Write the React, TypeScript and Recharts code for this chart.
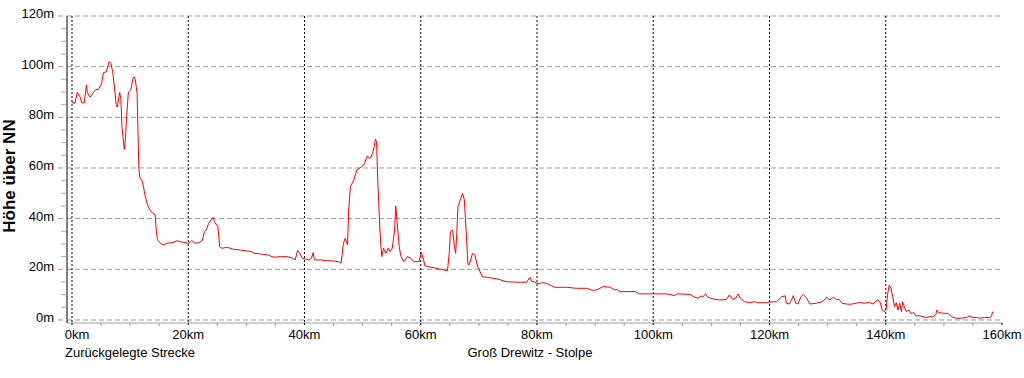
import { LineChart, Line, XAxis, YAxis, CartesianGrid } from "recharts";

// elevation profile Groß Drewitz - Stolpe
const distanceKm = [
  0.0, 0.5, 0.9, 1.4, 1.7, 2.1, 2.5, 2.6, 3.1, 3.7, 4.1, 4.5, 4.8, 5.1, 5.4, 5.9,
  6.4, 6.7, 7.0, 7.3, 7.6, 7.8, 8.2, 8.4, 8.6, 9.0, 9.2, 9.4, 9.7, 10.1, 10.5,
  10.7, 10.9, 11.2, 11.4, 11.5, 11.7, 12.0, 12.3, 12.6, 13.0, 13.4, 13.9, 14.3,
  14.5, 14.7, 15.2, 15.7, 16.3, 17.2, 18.1, 18.6, 19.5, 20.1, 20.6, 21.2, 21.8,
  22.4, 22.8, 23.1, 23.5, 24.1, 24.3, 24.5, 24.9, 25.1, 25.4, 25.8, 26.7, 27.8,
  29.0, 30.1, 30.9, 31.3, 32.4, 33.6, 34.7, 35.9, 37.0, 37.9, 38.4, 38.8, 39.2,
  39.6, 40.2, 40.7, 41.2, 41.5, 41.7, 42.8, 43.9, 45.0, 45.9, 46.3, 46.7, 47.0,
  47.4, 47.6, 47.9, 48.5, 49.0, 49.7, 50.2, 50.8, 51.3, 51.7, 52.0, 52.2, 52.4,
  52.6, 52.9, 53.1, 53.3, 53.6, 54.0, 54.4, 54.7, 55.1, 55.5, 55.7, 55.9, 56.3,
  56.6, 57.1, 57.7, 58.3, 58.8, 59.7, 60.1, 60.5, 60.7, 61.4, 62.3, 63.4, 64.6,
  64.9, 65.1, 65.5, 65.8, 66.0, 66.2, 66.4, 66.8, 67.2, 67.5, 67.8, 68.1, 68.3,
  68.6, 68.9, 69.3, 69.8, 70.2, 70.6, 71.5, 72.6, 73.5, 74.7, 76.5, 78.2, 78.8,
  79.1, 79.6, 80.2, 80.8, 81.6, 82.5, 83.1, 85.1, 86.8, 88.5, 89.7, 90.5, 91.4,
  92.6, 93.4, 93.8, 94.2, 94.9, 96.9, 97.6, 99.9, 102.2, 103.0, 103.6, 104.1,
  106.3, 107.1, 107.7, 108.3, 108.5, 109.0, 109.4, 110.3, 111.4, 112.6, 113.1,
  113.7, 114.2, 114.6, 115.0, 115.7, 116.6, 117.5, 118.0, 119.5, 120.0, 121.2,
  122.1, 122.7, 122.9, 123.4, 123.8, 124.1, 124.5, 124.9, 125.4, 125.8, 126.4,
  126.9, 128.1, 129.0, 129.5, 129.8, 130.4, 131.0, 131.5, 132.0, 132.5, 133.2,
  134.0, 134.9, 135.5, 136.3, 137.2, 137.8, 138.2, 138.6, 139.0, 139.4, 139.8,
  140.1, 140.3, 140.6, 140.9, 141.2, 141.5, 141.8, 142.1, 142.4, 142.7, 142.9,
  143.2, 143.5, 144.0, 144.4, 144.8, 145.2, 145.8, 146.4, 147.0, 147.5, 148.1,
  148.6, 148.8, 149.1, 150.1, 150.7, 151.3, 152.1, 153.0, 153.9, 154.4, 155.0,
  155.6, 156.2, 157.0, 158.0, 158.2, 158.4,
];

const elevationM = [
  86, 85.5, 89.8, 88, 85.7, 85.7, 92.8, 90, 88, 89.8, 91, 91, 92, 93.4, 97.6, 98,
  102, 101.3, 98, 92, 85, 84, 89.8, 87.5, 76, 67.4, 71.8, 80.3, 90, 90.8, 95.4,
  96, 94.8, 89.5, 69.8, 59.9, 55.9, 55.3, 52.6, 48.7, 45.4, 43.4, 42.1, 41.5,
  35.5, 31.6, 30.3, 29.6, 30.3, 30.5, 31.3, 30.9, 30.5, 30.3, 31.3, 30.3, 30.5,
  31.3, 34.9, 35.5, 38.1, 40.1, 40.5, 38.8, 37.5, 37, 28.9, 28.3, 28.7, 27.9,
  27.6, 27.2, 27, 26.3, 26.1, 25.7, 24.8, 25, 25, 24.4, 23.7, 27.4, 26.3,
  24.4, 24, 23.7, 24.4, 26.6, 23.7, 23.7, 23.4, 23.3, 23, 22.4, 30.3, 32.2,
  29.6, 43.4, 52.6, 55.3, 59.2, 60.3, 61.2, 64.7, 63.8, 65.8, 68.4, 71.3, 70.4,
  55.3, 39.5, 30.3, 25, 28.3, 26.3, 28.3, 27, 28.3, 35.5, 45, 39.5, 28.9,
  25, 23, 25, 24.4, 23, 23, 26.6, 23.7, 21.4, 21, 20.6, 20, 19.5,
  26.3, 34.9, 35.5, 28.9, 26.3, 34.2, 44.7, 47.4, 50, 47.4, 35.5, 22.4, 21.7,
  23.7, 26.3, 25.7, 21, 19.1, 17.1, 16.8, 16.4, 16, 15.1, 14.9, 14.9, 16.8,
  15.1, 15.1, 14.2, 14.7, 14.5, 13.5, 12.9, 12.9, 12.5, 12.5, 11.6, 12.1, 13.2,
  12.9, 11.8, 12.1, 11.1, 11.2, 11.2, 10.3, 10.3, 10.3, 10, 9.6, 10.3,
  10.1, 9, 8.6, 9.5, 9, 10.3, 9, 8.3, 7.9, 8.1, 9.9,
  8.1, 8.6, 10.3, 8.6, 7.2, 6.9, 7.2, 6.8, 6.8, 7.1, 7.2,
  9.2, 9.5, 6.6, 6.3, 7.9, 9.6, 6.6, 6.3, 9.2, 10.1, 8.6,
  6.3, 6.6, 7.2, 7.9, 9, 7.9, 9, 8.1, 8.1, 6.6, 6.3,
  6.2, 6.6, 6.9, 6.6, 6.9, 6.3, 7.2, 7.9, 7.2, 3.9, 3.3,
  4.6, 9.9, 13.8, 12.5, 9.2, 5.3, 6.8, 3.9, 6.6, 3.3, 7.2,
  5.3, 3.3, 3.9, 2.6, 2.9, 1.6, 1.7, 1.3, 0.9, 1.3, 1.3,
  2, 3.9, 2.9, 2.6, 2.6, 1.3, 0.7, 0.7, 1, 1.6, 1,
  1, 0.7, 1, 0.9, 1.6, 3.3,
];

const xTicks = [
  0, 5, 10, 15, 20, 25, 30, 35, 40, 45, 50, 55, 60, 65, 70, 75, 80, 85, 90, 95,
  100, 105, 110, 115, 120, 125, 130, 135, 140, 145, 150, 155, 160,
];
const yTicks = [
  0, 5, 10, 15, 20, 25, 30, 35, 40, 45, 50, 55, 60, 65, 70, 75, 80, 85, 90, 95,
  100, 105, 110, 115, 120,
];
const gridKm = [0, 20, 40, 60, 80, 100, 120, 140];
const gridM = [0, 20, 40, 60, 80, 100, 120];

const profile = distanceKm.map((km, i) => ({ km, hoehe: elevationM[i] }));

const FONT = '"Liberation Sans", Arial, sans-serif';

const YTick = ({ x, y, payload }: any) => {
  const v = payload.value;
  if (v % 20 === 0) {
    return (
      <g>
        <line x1={x - 9} x2={x} y1={y} y2={y} stroke="#999" strokeDasharray="5 3" />
        <text x={x - 13} y={y + 2} textAnchor="end" fontSize={13} fontFamily={FONT} fill="#000">
          {`${v}m`}
        </text>
      </g>
    );
  }
  return <line x1={x - 6} x2={x - 1} y1={y} y2={y} stroke="#aaa" />;
};

const XTick = ({ x, y, payload }: any) => {
  const v = payload.value;
  if (v % 20 === 0) {
    return (
      <g>
        <line x1={x} x2={x} y1={y} y2={y + 4} stroke="#000" strokeDasharray="2 2" />
        <text x={v === 0 ? x + 5 : x} y={y + 16} textAnchor="middle" fontSize={13} fontFamily={FONT} fill="#000">
          {`${v}km`}
        </text>
      </g>
    );
  }
  return <line x1={x} x2={x} y1={y} y2={y + 3} stroke="#999" />;
};

export default function App() {
  return (
    <div style={{ position: "absolute", left: 0, top: 0, width: 1024, height: 378, background: "#fff" }}>
      <LineChart
        width={1024}
        height={378}
        data={profile}
        margin={{ top: 16, right: 22, left: 0, bottom: 25 }}
      >
        <CartesianGrid
          vertical={false}
          horizontalValues={gridM}
          stroke="#999"
          strokeDasharray="5 3"
        />
        <CartesianGrid
          horizontal={false}
          verticalValues={gridKm}
          stroke="#000"
          strokeDasharray="2 2"
        />
        <XAxis
          type="number"
          dataKey="km"
          domain={[-0.86, 160]}
          allowDataOverflow
          ticks={xTicks}
          interval={0}
          height={30}
          tickSize={0}
          tickMargin={0}
          tickLine={false}
          axisLine={{ stroke: "#a0a0a0" }}
          tick={<XTick />}
        />
        <YAxis
          type="number"
          domain={[-1.2, 120]}
          allowDataOverflow
          ticks={yTicks}
          interval={0}
          width={67}
          tickSize={0}
          tickMargin={0}
          tickLine={false}
          axisLine={{ stroke: "#000" }}
          tick={<YTick />}
        />
        <Line
          type="linear"
          dataKey="hoehe"
          stroke="#ff0000"
          strokeWidth={1}
          dot={false}
          isAnimationActive={false}
        />
      </LineChart>
      <svg
        width={1024}
        height={378}
        style={{ position: "absolute", left: 0, top: 0, pointerEvents: "none" }}
      >
        <text
          transform="translate(15,176) rotate(-90)"
          textAnchor="middle"
          fontSize={17}
          fontWeight="bold"
          fontFamily={FONT}
          fill="#000"
        >
          Höhe über NN
        </text>
        <text x={65} y={357} fontSize={13} fontFamily={FONT} fill="#000">
          Zurückgelegte Strecke
        </text>
        <text x={530} y={357} textAnchor="middle" fontSize={13} fontFamily={FONT} fill="#000">
          Groß Drewitz - Stolpe
        </text>
      </svg>
    </div>
  );
}
